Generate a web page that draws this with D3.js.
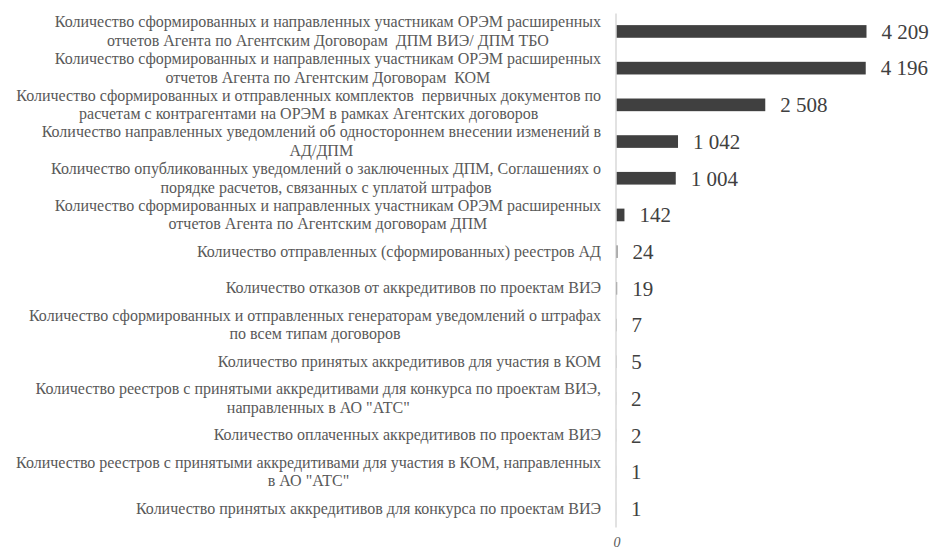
<!DOCTYPE html>
<html><head><meta charset="utf-8">
<script src="https://cdn.jsdelivr.net/npm/d3@7"></script>
<style>html,body{margin:0;padding:0;background:#fff;}svg{display:block;}</style>
</head><body>
<svg id="chart" width="938" height="551"></svg>
<script>
const categories = [
  ["Количество сформированных и направленных участникам ОРЭМ расширенных", "отчетов Агента по Агентским Договорам  ДПМ ВИЭ/ ДПМ ТБО"],
  ["Количество сформированных и направленных участникам ОРЭМ расширенных", "отчетов Агента по Агентским Договорам  КОМ"],
  ["Количество сформированных и отправленных комплектов  первичных документов по", "расчетам с контрагентами на ОРЭМ в рамках Агентских договоров"],
  ["Количество направленных уведомлений об одностороннем внесении изменений в", "АД/ДПМ"],
  ["Количество опубликованных уведомлений о заключенных ДПМ, Соглашениях о", "порядке расчетов, связанных с уплатой штрафов"],
  ["Количество сформированных и направленных участникам ОРЭМ расширенных", "отчетов Агента по Агентским договорам ДПМ"],
  ["Количество отправленных (сформированных) реестров АД"],
  ["Количество отказов от аккредитивов по проектам ВИЭ"],
  ["Количество сформированных и отправленных генераторам уведомлений о штрафах", "по всем типам договоров"],
  ["Количество принятых аккредитивов для участия в КОМ"],
  ["Количество реестров с принятыми аккредитивами для конкурса по проектам ВИЭ,", "направленных в АО \"АТС\""],
  ["Количество оплаченных аккредитивов по проектам ВИЭ"],
  ["Количество реестров с принятыми аккредитивами для участия в КОМ, направленных", "в АО \"АТС\""],
  ["Количество принятых аккредитивов для конкурса по проектам ВИЭ"]
];
const values = [4209, 4196, 2508, 1042, 1004, 142, 24, 19, 7, 5, 2, 2, 1, 1];
const axisTickLabels = ["0"];

(function(){
const FONT = '"Liberation Serif", "Times New Roman", Tinos, serif';
const svg = d3.select("#chart");
const axisX = 616, plotTop = 13, plotBottom = 527;
const idx = d3.range(values.length);

const y = d3.scaleBand().domain(idx).range([plotTop, plotBottom]).paddingInner(0.655).paddingOuter(0.33);
const x = d3.scaleLinear().domain([0, 4209]).range([axisX, 866.5]);

const fmt = d3.formatLocale({decimal: ",", thousands: " ", grouping: [3], currency: ["", ""]}).format(",d");

// bars
svg.append("g").selectAll("rect").data(idx).join("rect")
  .attr("x", x(0))
  .attr("y", i => y(i))
  .attr("width", i => Math.max(0, x(values[i]) - x(0)))
  .attr("height", y.bandwidth())
  .attr("fill", "#404040");

// category axis line
const yAxis = d3.axisLeft(d3.scaleLinear().domain([0,1]).range([plotBottom, plotTop])).ticks(0).tickSize(0).tickFormat("");
const ga = svg.append("g").attr("transform", `translate(${axisX - 0.5},0)`).call(yAxis);
ga.select(".domain").attr("stroke", "#d9d9d9").attr("stroke-width", 1.5);

// value labels
svg.append("g").selectAll("text").data(idx).join("text")
  .attr("x", i => x(values[i]) + 15)
  .attr("y", i => y(i) + y.bandwidth() / 2)
  .attr("dy", "0.35em")
  .style("font-family", FONT)
  .style("font-size", "21px")
  .attr("fill", "#404040")
  .text(i => fmt(values[i]));

// category labels
const labelRight = 601;
const lineH = 18.5;
const lg = svg.append("g").attr("fill", "#595959");
idx.forEach(i => {
  const lines = categories[i];
  const t = lg.append("text").attr("text-anchor", "middle")
    .style("font-family", FONT).style("font-size", "16px").style("white-space", "pre");
  const cy = y(i) + y.bandwidth() / 2;
  const n = lines.length;
  lines.forEach((ln, k) => {
    t.append("tspan").attr("y", cy + (k - (n - 1) / 2) * lineH).attr("dy", "0.32em").text(ln);
  });
  let maxW = 0;
  t.selectAll("tspan").each(function(){ maxW = Math.max(maxW, this.getComputedTextLength()); });
  t.selectAll("tspan").attr("x", labelRight - maxW / 2);
});

// value axis tick label
svg.append("text").attr("x", x(0) + 1).attr("y", 547)
  .attr("text-anchor", "middle")
  .style("font-family", FONT)
  .style("font-style", "italic").style("font-size", "14px").attr("fill", "#595959")
  .text(axisTickLabels[0]);
})();
</script>
</body></html>
